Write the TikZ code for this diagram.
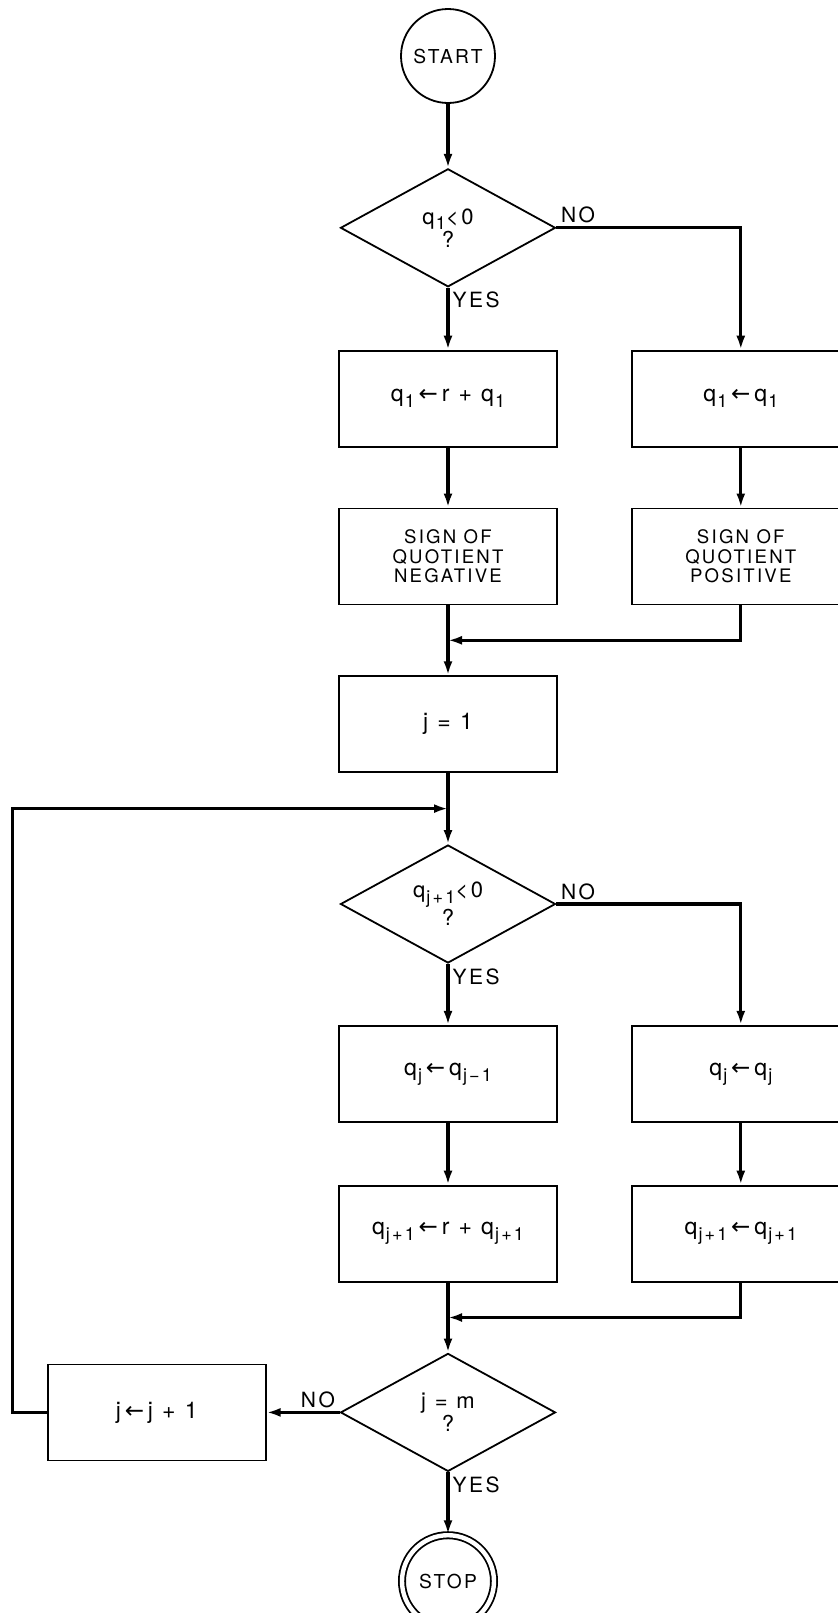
\documentclass[tikz,border=0pt]{standalone}
\usepackage{fontspec}
\setmainfont{TeX Gyre Heros}[LetterSpace=12]
\newfontfamily\arrowfont{DejaVu Sans}
\usetikzlibrary{shapes.geometric,arrows.meta,positioning,calc}

\newcommand{\qv}[1]{q\kern0.6pt\raisebox{-0.5ex}{\fontsize{9}{9}\selectfont #1}}
\newcommand{\asgn}{\,{\arrowfont ←}\,}

\begin{document}
\begin{tikzpicture}[node distance=31pt, thick,
        >={Latex[length=7pt,width=4.5pt]},
        line/.style={line width=1.6pt},
        proc/.style={rectangle, draw, line width=0.9pt, minimum width=109pt, minimum height=48pt, align=center, font=\fontsize{9.3}{9.8}\selectfont},
        assign/.style={proc, font=\fontsize{11.5}{12}\selectfont},
        test/.style={diamond, draw, line width=0.9pt, minimum width=107.5pt, minimum height=59pt, aspect=1.8, inner sep=0pt, align=center, font=\fontsize{11}{11.5}\selectfont},
        term/.style={circle, draw, line width=0.9pt, minimum size=47pt, inner sep=0pt, font=\fontsize{9.6}{10}\selectfont},
        lbl/.style={font=\fontsize{10.5}{11}\selectfont, inner sep=1.5pt}]

        \useasboundingbox (0,0) rectangle (418.5pt,-806.5pt);

        \node [term] (start) at (224pt,-28pt) {START};
        \node [test, below=32pt of start] (dec1) {\qv{1}<0\\?};
        \node [assign, below=of dec1] (box1) {\qv{1}\asgn r + \qv{1}};
        \node [assign, right=36.5pt of box1] (posbox) {\qv{1}\asgn \qv{1}};
        \node [proc, below=30pt of box1] (sgnneg) {SIGN OF\\QUOTIENT\\NEGATIVE};
        \node [proc, below=30pt of posbox] (sgnpos) {SIGN OF\\QUOTIENT\\POSITIVE};
        \node [assign, below=35pt of sgnneg] (jone) {j = 1};
        \node [test, below=35.5pt of jone] (dec2) {\qv{j+1}<0\\?};
        \node [assign, below=30.5pt of dec2] (qj) {\qv{j}\asgn \qv{j−1}};
        \node [assign, right=36.5pt of qj] (qjsame) {\qv{j}\asgn \qv{j}};
        \node [assign, below=of qj] (qjp) {\qv{j+1}\asgn r + \qv{j+1}};
        \node [assign, below=of qjsame] (qjpsame) {\qv{j+1}\asgn \qv{j+1}};
        \node [test, below=35pt of qjp] (dec3) {j = m\\?};
        \node [assign, left=36.5pt of dec3] (inc) {j\asgn j + 1};
        \node [term, double, double distance=2.2pt, minimum size=46pt, below=31pt of dec3] (stop) {STOP};

        \coordinate (join1) at ($(sgnneg.south)!0.5!(jone.north)$);
        \coordinate (join2) at ($(jone.south)!0.5!(dec2.north)$);
        \coordinate (join3) at ($(qjp.south)!0.5!(dec3.north)$);

        \draw [->, line] (start) -- (dec1);
        \draw [->, line] (dec1.south) node [lbl, below right] {YES} -- (box1);
        \draw [->, line] (dec1.east) node [lbl, above right] {NO} -| (posbox);
        \draw [->, line] (box1) -- (sgnneg);
        \draw [->, line] (posbox) -- (sgnpos);
        \draw [->, line] (sgnneg) -- (jone);
        \draw [->, line] (sgnpos.south) |- (join1);
        \draw [->, line] (jone) -- (dec2);
        \draw [->, line] (dec2.south) node [lbl, below right] {YES} -- (qj);
        \draw [->, line] (dec2.east) node [lbl, above right] {NO} -| (qjsame);
        \draw [->, line] (qj) -- (qjp);
        \draw [->, line] (qjsame) -- (qjpsame);
        \draw [->, line] (qjp) -- (dec3);
        \draw [->, line] (qjpsame.south) |- (join3);
        \draw [->, line] (dec3.west) node [lbl, above left] {NO} -- (inc);
        \draw [->, line] (inc.west) -- ++(-17pt,0) |- (join2);
        \draw [->, line] (dec3.south) node [lbl, below right] {YES} -- (stop);
    \end{tikzpicture}
\end{document}
